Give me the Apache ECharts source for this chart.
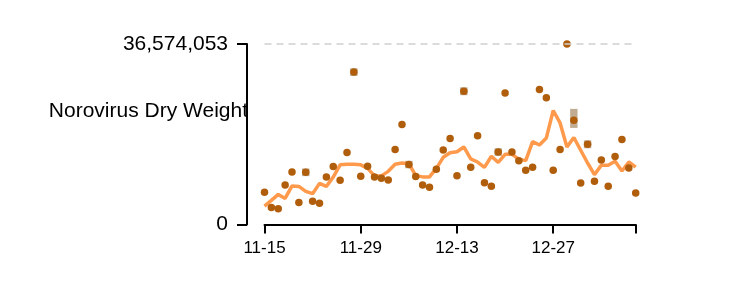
<!DOCTYPE html>
<html>
<head>
<meta charset="utf-8">
<script src="https://cdn.jsdelivr.net/npm/echarts@6/dist/echarts.min.js"></script>
<style>
html,body{margin:0;padding:0;background:#fff;}
#chart{width:750px;height:306px;}
</style>
</head>
<body>
<div id="chart"></div>
<script>
// ---- data ----
const startDate = '2023-11-15';
const lastDay = 54;
const yMax = 36574053;
const yAxisTitle = 'Norovirus Dry Weight';
// daily sample values (millions), day 0 = startDate
const sampleValues = [
  6.56, 3.45, 3.21, 7.99, 10.63, 4.47, 10.57, 4.71, 4.31, 9.61,
  11.74, 8.98, 14.57, 30.88, 9.79, 11.78, 9.61, 9.39, 9.00, 15.18,
  20.26, 12.15, 9.75, 7.99, 7.56, 11.18, 15.10, 17.41, 9.90, 27.02,
  11.58, 17.98, 8.47, 7.76, 14.69, 26.64, 14.67, 12.94, 11.01, 11.58,
  27.37, 25.66, 10.97, 15.18, 36.574053, 21.13, 8.39, 16.26, 8.78, 13.07,
  7.76, 13.76, 17.21, 11.44, 6.36
];
// trend line values (millions)
const trendValues = [
  3.72, 4.88, 6.10, 5.28, 7.82, 7.72, 6.71, 6.24, 8.33, 7.72,
  9.61, 12.09, 12.19, 12.19, 12.09, 11.38, 9.85, 9.85, 10.77, 12.19,
  12.46, 12.33, 9.90, 9.65, 9.65, 11.38, 13.61, 14.53, 14.73, 15.71,
  13.31, 12.66, 11.58, 13.82, 12.60, 14.22, 14.22, 13.25, 12.94, 16.80,
  16.11, 17.54, 23.10, 20.58, 15.71, 17.62, 15.04, 12.46, 10.10, 11.99,
  11.99, 12.80, 10.83, 12.66, 11.64
];
// replicate ranges: day, low (millions), high (millions)
const rangeDays = [6, 13, 21, 29, 34, 45, 47];
const rangeLow  = [9.80, 30.10, 11.40, 26.20, 13.90, 19.57, 15.45];
const rangeHigh = [11.35, 31.65, 12.90, 27.80, 15.45, 23.43, 17.05];

// ---- chart ----
const M = 1e6;
const scatterData = sampleValues.map((v, i) => [i, Math.round(v * M)]);
const lineData = trendValues.map((v, i) => [i, Math.round(v * M)]);
const rangeData = rangeDays.map((d, i) => [d, rangeLow[i] * M, rangeHigh[i] * M]);

const start = new Date(startDate + 'T00:00:00Z');
function dayLabel(d) {
  const t = new Date(start.getTime() + d * 86400000);
  const mm = String(t.getUTCMonth() + 1).padStart(2, '0');
  const dd = String(t.getUTCDate()).padStart(2, '0');
  return mm + '-' + dd;
}
function fmt(v) {
  return String(Math.round(v)).replace(/\B(?=(\d{3})+(?!\d))/g, ',');
}

const FONT = '"Liberation Sans", Arial, Helvetica, sans-serif';
const chart = echarts.init(document.getElementById('chart'), null, {renderer: 'canvas'});
chart.setOption({
  animation: false,
  backgroundColor: '#fff',
  grid: {left: 264.5, right: 114.3, top: 44, bottom: 81.5, containLabel: false},
  xAxis: {
    type: 'value',
    min: 0, max: lastDay, interval: 14,
    axisLine: {show: true, onZero: false, lineStyle: {color: '#000', width: 2}},
    axisTick: {show: true, length: 9, lineStyle: {color: '#000', width: 2}},
    axisLabel: {
      color: '#000', fontSize: 17, fontFamily: FONT, margin: 15,
      formatter: v => (v % 14 === 0 ? dayLabel(v) : '')
    },
    splitLine: {show: false}
  },
  yAxis: {
    type: 'value',
    min: 0, max: yMax, interval: yMax,
    offset: 17.5,
    axisLine: {show: true, onZero: false, lineStyle: {color: '#000', width: 2}},
    axisTick: {show: true, length: 10, lineStyle: {color: '#000', width: 2}},
    axisLabel: {color: '#000', fontSize: 21, fontFamily: FONT, margin: 19, formatter: v => fmt(v)},
    splitLine: {show: false}
  },
  graphic: [{
    type: 'text', x: 248, y: 111, z: 100,
    style: {text: yAxisTitle, fill: '#000', font: '21px ' + FONT, textAlign: 'right', textVerticalAlign: 'middle'}
  }],
  series: [
    {
      type: 'custom', z: 1,
      data: rangeData,
      renderItem: function (params, api) {
        const x = api.value(0);
        const p1 = api.coord([x, api.value(2)]);
        const p2 = api.coord([x, api.value(1)]);
        return {type: 'rect', shape: {x: p1[0] - 3.7, y: p1[1], width: 7.4, height: p2[1] - p1[1]},
          style: {fill: 'rgba(130,90,40,0.5)'}};
      },
      silent: true
    },
    {
      type: 'line', z: 2,
      data: lineData, showSymbol: false, symbol: 'none',
      lineStyle: {color: '#ff9a4c', width: 3.5},
      markLine: {
        silent: true, symbol: 'none', label: {show: false},
        lineStyle: {color: '#d0d0d0', type: [7, 5], width: 1.5},
        data: [{yAxis: yMax}]
      }
    },
    {
      type: 'scatter', z: 3,
      data: scatterData, symbol: 'circle', symbolSize: 7.5,
      itemStyle: {color: '#b05e0c', opacity: 1}
    }
  ]
});
</script>
</body>
</html>
